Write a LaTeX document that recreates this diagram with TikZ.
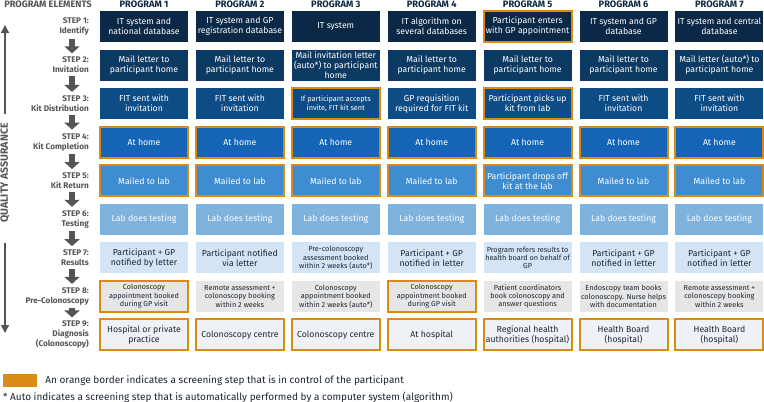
\documentclass[tikz,border=0pt]{standalone}
\usepackage{fontspec}
\setmainfont{Fira Sans}
\usetikzlibrary{arrows.meta,positioning,backgrounds}

\definecolor{row1}{HTML}{0B2846}
\definecolor{row2}{HTML}{0D3A62}
\definecolor{row3}{HTML}{0E4C86}
\definecolor{row4}{HTML}{1565B6}
\definecolor{row5}{HTML}{3F8DD0}
\definecolor{row6}{HTML}{80B2DE}
\definecolor{row7}{HTML}{D3E5F4}
\definecolor{row8}{HTML}{E6E6E6}
\definecolor{row9}{HTML}{EEF2F7}
\definecolor{ink}{HTML}{1B2633}
\definecolor{linkblue}{HTML}{1C76CF}
\definecolor{own}{HTML}{D98A17}
\definecolor{steptext}{HTML}{555555}

\newcommand\bxf{\fontsize{8.7}{10}\selectfont}
\newcommand\bxs{\fontsize{7.3}{8.4}\selectfont}

\tikzset{
  cell/.style={minimum width=88pt, minimum height=31pt, inner sep=1pt, align=center, line width=2pt},
  steplabel/.style={anchor=east, align=right, inner sep=1pt, text=steptext, font=\fontsize{8.2}{10}\selectfont\bfseries},
  head/.style={inner sep=0pt, text=row1, font=\fontsize{9.3}{10}\selectfont\bfseries},
  link/.style={draw=linkblue, line width=2pt},
  flowarrow/.style={draw=steptext, line width=6.5pt, -{Triangle[width=15pt,length=7pt]}, shorten <=2pt, shorten >=2.5pt},
  qaarrow/.style={draw=steptext, line width=1.5pt, -{Triangle[width=8pt,length=8pt]}},
  legend/.style={inner sep=0pt, text=ink, font=\fontsize{10}{11}\selectfont}
}

\begin{document}
\begin{tikzpicture}[x=1pt, y=-1pt]
  \useasboundingbox[fill=white] (0,0) rectangle (764,402);
  % column heads
  \node[head, text=steptext] (elements) at (48,4) {PROGRAM ELEMENTS};
  \foreach \m in {1,...,7} {
    \node[head] (p\m) at ({48.1+95.9*\m}, 4) {PROGRAM \m};
  }
  % step boxes
  \foreach \y [count=\n] in {
    {{IT system and\\national database}/none/\bxf, {IT system and GP\\registration database}/none/\bxf, {IT system}/none/\bxf, {IT algorithm on\\several databases}/none/\bxf, {Participant enters\\with GP appointment}/own/\bxf, {IT system and GP\\database}/none/\bxf, {IT system and central\\database}/none/\bxf},
    {{Mail letter to\\participant home}/none/\bxf, {Mail letter to\\participant home}/none/\bxf, {Mail invitation letter\\(auto*) to participant\\home}/none/\bxf, {Mail letter to\\participant home}/none/\bxf, {Mail letter to\\participant home}/none/\bxf, {Mail letter to\\participant home}/none/\bxf, {Mail letter (auto*) to\\participant home}/none/\bxf},
    {{FIT sent with\\invitation}/none/\bxf, {FIT sent with\\invitation}/none/\bxf, {If participant accepts\\invite, FIT kit sent}/own/\bxs, {GP requisition\\required for FIT kit}/none/\bxf, {Participant picks up\\kit from lab}/own/\bxf, {FIT sent with\\invitation}/none/\bxf, {FIT sent with\\invitation}/none/\bxf},
    {{At home}/own/\bxf, {At home}/own/\bxf, {At home}/own/\bxf, {At home}/own/\bxf, {At home}/own/\bxf, {At home}/own/\bxf, {At home}/own/\bxf},
    {{Mailed to lab}/own/\bxf, {Mailed to lab}/own/\bxf, {Mailed to lab}/own/\bxf, {Mailed to lab}/own/\bxf, {Participant drops off\\kit at the lab}/own/\bxf, {Mailed to lab}/own/\bxf, {Mailed to lab}/own/\bxf},
    {{Lab does testing}/none/\bxf, {Lab does testing}/none/\bxf, {Lab does testing}/none/\bxf, {Lab does testing}/none/\bxf, {Lab does testing}/none/\bxf, {Lab does testing}/none/\bxf, {Lab does testing}/none/\bxf},
    {{Participant + GP\\notified by letter}/none/\bxf, {Participant notified\\via letter}/none/\bxf, {Pre-colonoscopy\\assessment booked\\within 2 weeks (auto*)}/none/\bxs, {Participant + GP\\notified in letter}/none/\bxf, {Program refers results to\\health board on behalf of\\GP}/none/\bxs, {Participant + GP\\notified in letter}/none/\bxf, {Participant + GP\\notified in letter}/none/\bxf},
    {{Colonoscopy\\appointment booked\\during GP visit}/own/\bxs, {Remote assessment +\\colonoscopy booking\\within 2 weeks}/none/\bxs, {Colonoscopy\\appointment booked\\within 2 weeks (auto*)}/none/\bxs, {Colonoscopy\\appointment booked\\during GP visit}/own/\bxs, {Patient coordinators\\book colonoscopy and\\answer questions}/none/\bxs, {Endoscopy team books\\colonoscopy. Nurse helps\\with documentation}/none/\bxs, {Remote assessment +\\colonoscopy booking\\within 2 weeks}/none/\bxs},
    {{Hospital or private\\practice}/own/\bxf, {Colonoscopy centre}/own/\bxf, {Colonoscopy centre}/own/\bxf, {At hospital}/own/\bxf, {Regional health\\authorities (hospital)}/own/\bxf, {Health Board\\(hospital)}/own/\bxf, {Health Board\\(hospital)}/own/\bxf}} {
    \pgfmathtruncatemacro{\tk}{\n>6 ? 100 : 0}
    \foreach \t/\bc/\fs [count=\m] in \y {
      \node[cell, fill=row\n, draw=\bc, text=ink!\tk!white, font=\fs] (b\n-\m) at ({48.1+95.9*\m}, {38.56*\n-12.06}) {\t};
    }
  }
  % links down each program
  \begin{scope}[on background layer]
    \foreach \m in {1,...,7} {
      \foreach \n [evaluate=\n as \k using int(\n+1)] in {1,...,8} {
        \draw[link] (b\n-\m) -- (b\k-\m);
      }
    }
  \end{scope}
  % step labels
  \foreach \a [count=\n] in {{STEP 1:\\Identify},{STEP 2:\\Invitation},{STEP 3:\\Kit Distribution},{STEP 4:\\Kit Completion},{STEP 5:\\Kit Return},{STEP 6:\\Testing},{STEP 7:\\Results},{STEP 8:\\Pre-Colonoscopy},{STEP 9:\\Diagnosis\\(Colonoscopy)}} {
    \node[steplabel] (l\n) at (90, {38.56*\n-12.06}) {\a};
  }
  \coordinate (ax) at (72,0);
  \foreach \n [evaluate=\n as \k using int(\n+1)] in {1,...,8} {
    \draw[flowarrow] (l\n.south -| ax) -- (l\k.north -| ax);
  }
  % quality assurance
  \node[rotate=90, inner sep=1pt, text=steptext, font=\fontsize{10.5}{11}\selectfont\bfseries] (qa) at (5,173) {QUALITY ASSURANCE};
  \coordinate (qaup) at (5,25);
  \coordinate (qadown) at (5,333);
  \draw[qaarrow, shorten <=8pt] (qa.east) -- (qaup);
  \draw[qaarrow, shorten <=19pt] (qa.west) -- (qadown);
  % legend
  \node[fill=own, minimum width=34pt, minimum height=13pt, inner sep=0pt] (key) at (20,380.5) {};
  \node[legend, right=8pt of key] (keytext) {An orange border indicates a screening step that is in control of the participant};
  \node[legend, anchor=west] (autonote) at (3,397) {* Auto indicates a screening step that is automatically performed by a computer system (algorithm)};
\end{tikzpicture}
\end{document}
